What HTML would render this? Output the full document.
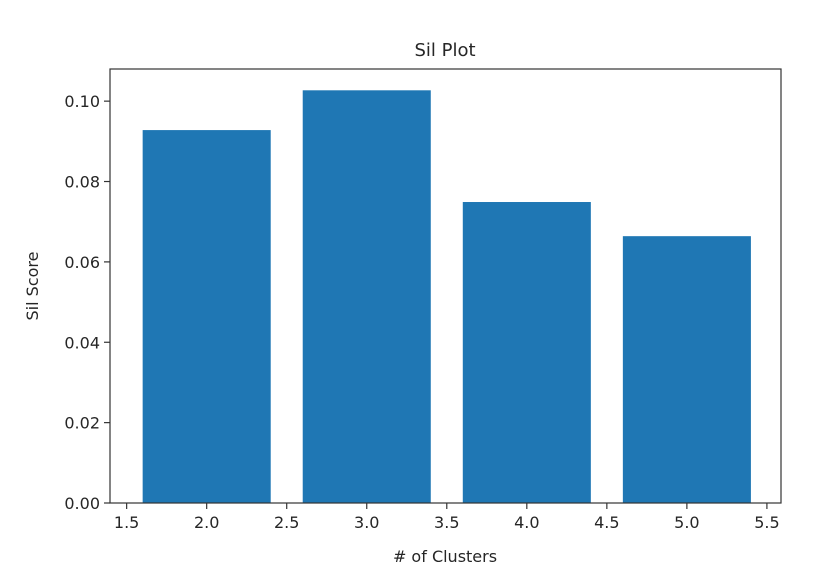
<!DOCTYPE html>
<html><head><meta charset="utf-8"><style>
body{margin:0;background:#fff;}
svg text{font-family:"DejaVu Sans","Liberation Sans",sans-serif;fill:#262626;}
</style></head><body>
<svg id="chart" width="828" height="580">
<text x="445" y="56" font-size="18" text-anchor="middle">Sil Plot</text>
<g id="bars"></g>
<g id="axes"></g>
<text x="445" y="562" font-size="16" text-anchor="middle"># of Clusters</text>
<text transform="translate(38,286) rotate(-90)" font-size="16" text-anchor="middle">Sil Score</text>
</svg>
<script>
const categories=[2,3,4,5];
const scores=[0.0928,0.1027,0.0749,0.0664];
const xTicks=[1.5,2.0,2.5,3.0,3.5,4.0,4.5,5.0,5.5];
const yTicks=[0,0.02,0.04,0.06,0.08,0.10];
const L=110,R=781,T=69,B=503;
const xMin=1.396,xMax=5.588,yMin=0,yMax=0.108;
const xs=v=>L+(v-xMin)/(xMax-xMin)*(R-L);
const ys=v=>B-(v-yMin)/(yMax-yMin)*(B-T);
const NS="http://www.w3.org/2000/svg";
const bars=document.getElementById('bars'),axes=document.getElementById('axes');
function mk(tag,attrs,parent){const e=document.createElementNS(NS,tag);for(const k in attrs)e.setAttribute(k,attrs[k]);parent.appendChild(e);return e;}
categories.forEach((c,i)=>{
 const r=mk('rect',{x:xs(c-0.4),y:ys(scores[i]),width:xs(c+0.4)-xs(c-0.4),height:ys(0)-ys(scores[i]),fill:'#1f77b4'},bars);
 
 
});
const frame=mk('rect',{x:L,y:T,width:R-L,height:B-T,fill:'none',stroke:'#333',"stroke-width":1.2},axes);


xTicks.forEach(t=>{
 const x=xs(t);
 mk('line',{x1:x,x2:x,y1:B,y2:B+6,stroke:'#333',"stroke-width":1.2},axes);
 const tx=mk('text',{x:x,y:B+25,"font-size":16,"text-anchor":"middle"},axes);
 tx.textContent=t.toFixed(1);
 
 
});
yTicks.forEach(t=>{
 const y=ys(t);
 mk('line',{x1:L-6,x2:L,y1:y,y2:y,stroke:'#333',"stroke-width":1.2},axes);
 const tx=mk('text',{x:L-10,y:y+6,"font-size":16,"text-anchor":"end"},axes);
 tx.textContent=t.toFixed(2);
 
 
});
</script>
</body></html>
